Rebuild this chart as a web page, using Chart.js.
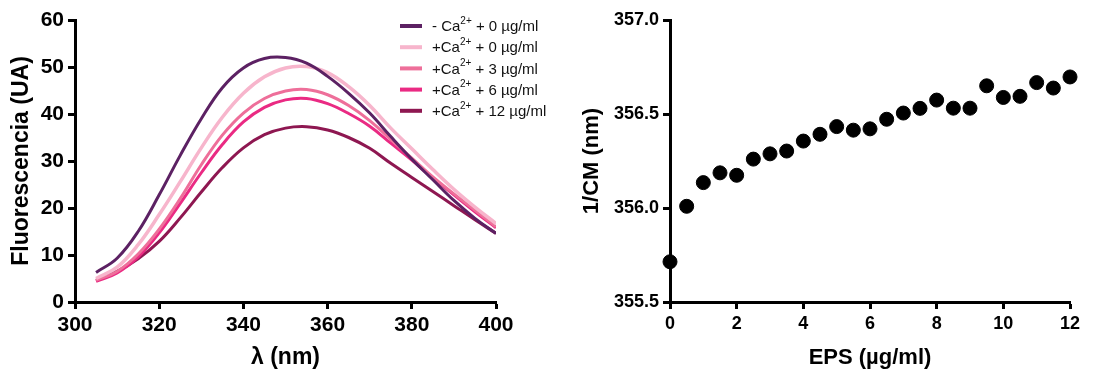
<!DOCTYPE html>
<html>
<head>
<meta charset="utf-8">
<script src="https://cdn.jsdelivr.net/npm/chart.js@4.4.1/dist/chart.umd.min.js"></script>
<style>
body { margin: 0; background: #fff; }
#wrap { position: relative; width: 1110px; height: 371px; }
#left { position: absolute; left: 0; top: 0; }
#right { position: absolute; left: 560px; top: 0; }
</style>
</head>
<body>
<div id="wrap">
  <canvas id="left" width="560" height="371"></canvas>
  <canvas id="right" width="550" height="371"></canvas>
</div>
<script>
// espectros de emision (nm)
const wavelengths = [305, 310, 315, 320, 325, 330, 335, 340, 345, 350, 355, 360, 365, 370, 375, 380, 385, 390, 395, 400];
const sinCa_0   = [6.3, 9.3, 15.0, 22.8, 31.2, 39.0, 45.6, 49.8, 51.8, 52.0, 50.8, 48.0, 44.4, 40.2, 35.2, 30.4, 26.0, 21.6, 17.8, 14.6];
const conCa_0   = [5.0, 7.4, 12.2, 18.6, 25.6, 32.8, 39.3, 44.4, 47.9, 49.8, 50.1, 48.8, 45.8, 41.8, 37.0, 32.6, 28.2, 24.0, 20.2, 16.7];
const conCa_3   = [4.6, 6.5, 10.2, 15.5, 22.0, 29.2, 35.5, 40.2, 43.3, 44.9, 45.2, 44.1, 41.8, 38.6, 34.6, 30.6, 26.6, 23.0, 19.5, 16.0];
const conCa_6   = [4.4, 6.2, 9.6, 14.7, 21.0, 27.5, 33.5, 38.3, 41.4, 43.0, 43.3, 42.2, 40.1, 37.4, 33.8, 30.2, 26.4, 22.8, 19.2, 15.8];
const conCa_12  = [4.6, 6.5, 9.2, 12.9, 17.9, 23.4, 28.6, 32.8, 35.6, 37.0, 37.3, 36.6, 35.0, 32.7, 29.5, 26.5, 23.5, 20.5, 17.5, 14.6];
const seriesLabels = ['- Ca2+ + 0 µg/ml', '+Ca2+ + 0 µg/ml', '+Ca2+ + 3 µg/ml', '+Ca2+ + 6 µg/ml', '+Ca2+ + 12 µg/ml'];
const seriesColors = ['#5c2163', '#f7b5cc', '#ee6f9a', '#ea2a83', '#8e1751'];

// centro de masa vs EPS
const epsValues = [0, 0.5, 1, 1.5, 2, 2.5, 3, 3.5, 4, 4.5, 5, 5.5, 6, 6.5, 7, 7.5, 8, 8.5, 9, 9.5, 10, 10.5, 11, 11.5, 12];
const cmValues  = [355.714, 356.009, 356.135, 356.187, 356.174, 356.260, 356.288, 356.303, 356.356, 356.392, 356.433, 356.414, 356.421, 356.472, 356.505, 356.530, 356.574, 356.531, 356.531, 356.650, 356.588, 356.594, 356.667, 356.638, 356.697];

Chart.defaults.font.family = "'Liberation Sans', Arial, sans-serif";
Chart.defaults.color = '#000';

function ejeX(min, max, step, titulo, tickSize, titleSize, padBottom) {
    return {
        type: 'linear', min: min, max: max,
        ticks: { stepSize: step, font: { size: tickSize, weight: 'bold' }, padding: 4, maxRotation: 0 },
        grid: { display: true, drawOnChartArea: false, drawTicks: true, tickLength: 7, tickWidth: 3, tickColor: '#000' },
        border: { display: true, width: 3, color: '#000' },
        title: { display: true, text: titulo, font: { size: titleSize, weight: 'bold' }, padding: { top: 0, bottom: padBottom } },
        afterFit: s => { s.height = 69; }
    };
}

function ejeY(min, max, step, titulo, tickSize, titleSize, ancho, padTop, decimales) {
    return {
        type: 'linear', min: min, max: max,
        ticks: {
            stepSize: step, font: { size: tickSize, weight: 'bold' }, padding: 4,
            callback: v => v.toFixed(decimales)
        },
        grid: { display: true, drawOnChartArea: false, drawTicks: true, tickLength: 7, tickWidth: 3, tickColor: '#000' },
        border: { display: true, width: 3, color: '#000' },
        title: { display: true, text: titulo, font: { size: titleSize, weight: 'bold' }, padding: { top: padTop, bottom: 0 } },
        afterFit: s => { s.width = ancho; }
    };
}

// leyenda con superindice
const leyendaPlugin = {
    id: 'leyenda',
    afterDraw(chart) {
        const ctx = chart.ctx;
        ctx.save();
        ctx.textBaseline = 'middle';
        chart.data.datasets.forEach((ds, i) => {
            const y = 26 + i * 21.2;
            ctx.strokeStyle = ds.borderColor;
            ctx.lineWidth = 4;
            ctx.beginPath();
            ctx.moveTo(400, y);
            ctx.lineTo(422, y);
            ctx.stroke();

            const partes = ds.label.split('Ca2+');
            let x = 432;
            ctx.fillStyle = '#111';
            ctx.font = "15px 'Liberation Sans', Arial, sans-serif";
            const antes = partes[0] + 'Ca';
            ctx.fillText(antes, x, y + 1);
            x += ctx.measureText(antes).width;
            ctx.font = "10px 'Liberation Sans', Arial, sans-serif";
            ctx.fillText('2+', x, y - 5);
            x += ctx.measureText('2+').width;
            ctx.font = "15px 'Liberation Sans', Arial, sans-serif";
            ctx.fillText(partes[1], x, y + 1);
        });
        ctx.restore();
    }
};

const espectros = [sinCa_0, conCa_0, conCa_3, conCa_6, conCa_12];

new Chart(document.getElementById('left'), {
    type: 'line',
    data: {
        datasets: espectros.map((serie, i) => ({
            label: seriesLabels[i],
            data: wavelengths.map((w, j) => ({ x: w, y: serie[j] })),
            borderColor: seriesColors[i],
            backgroundColor: seriesColors[i],
            borderWidth: i === 1 ? 3.5 : 3,
            pointRadius: 0,
            tension: 0.4,
            fill: false
        }))
    },
    options: {
        responsive: false,
        animation: false,
        devicePixelRatio: 1,
        layout: { padding: { top: 20, right: 64, bottom: 0, left: 0 } },
        plugins: { legend: { display: false }, tooltip: { enabled: false } },
        scales: {
            x: ejeX(300, 400, 20, 'λ (nm)', 21, 23, 0),
            y: ejeY(0, 60, 10, 'Fluorescencia (UA)', 21, 23, 75, 8, 0)
        }
    },
    plugins: [leyendaPlugin]
});

new Chart(document.getElementById('right'), {
    type: 'scatter',
    data: {
        datasets: [{
            label: '1/CM',
            data: epsValues.map((e, i) => ({ x: e, y: cmValues[i] })),
            backgroundColor: '#000',
            borderColor: '#000',
            pointRadius: 7,
            showLine: false,
            clip: false
        }]
    },
    options: {
        responsive: false,
        animation: false,
        devicePixelRatio: 1,
        layout: { padding: { top: 20, right: 40, bottom: 0, left: 0 } },
        plugins: { legend: { display: false }, tooltip: { enabled: false } },
        scales: {
            x: ejeX(0, 12, 2, 'EPS (µg/ml)', 18, 22, 0),
            y: ejeY(355.5, 357.0, 0.5, '1/CM (nm)', 18, 22, 110, 19, 1)
        }
    }
});
</script>
</body>
</html>
